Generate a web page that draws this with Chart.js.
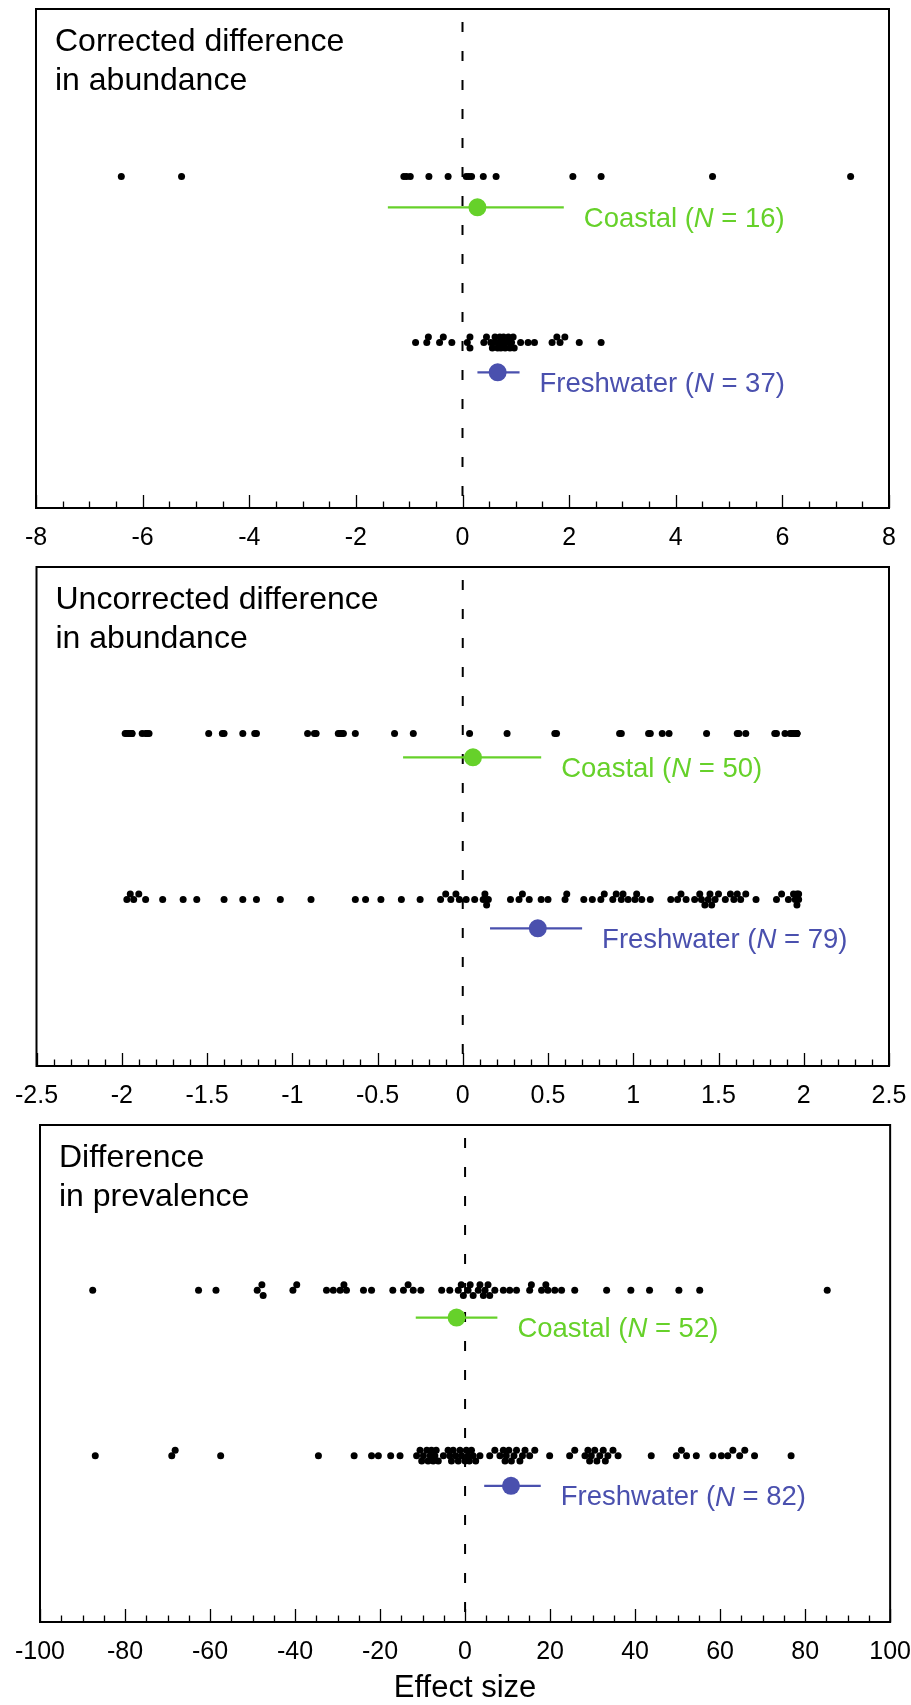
<!DOCTYPE html>
<html>
<head>
<meta charset="utf-8">
<script src="https://cdn.jsdelivr.net/npm/chart.js@4.4.1/dist/chart.umd.min.js"></script>
<style>
  body { margin: 0; background: #fff; }
  #wrap { position: relative; width: 911px; height: 1705px; background: #fff; }
  canvas { position: absolute; left: 0; }
</style>
</head>
<body>
<div id="wrap">
  <canvas id="c1" width="911" height="558" style="top:0px"></canvas>
  <canvas id="c2" width="911" height="558" style="top:558px"></canvas>
  <canvas id="c3" width="911" height="589" style="top:1116px"></canvas>
</div>
<script>
// ---- data ----
const groupNames = ['Coastal', 'Freshwater'];
const xAxisTitle = 'Effect size';

// corrected difference in abundance
const titleCorrected = ['Corrected difference', 'in abundance'];
const ticksCorrected = [-8, -6, -4, -2, 0, 2, 4, 6, 8];
const coastalCorrected = [-6.40, -5.27, -1.10, -1.05, -0.98, -0.63, -0.27, 0.07, 0.12, 0.17,
    0.39, 0.63, 2.07, 2.60, 4.69, 7.28];
const freshCorrected = [-0.88, -0.67, -0.64, -0.43, -0.36, -0.20, 0.09, 0.14, 0.14, 0.40,
    0.45, 0.53, 0.56, 0.61, 0.61, 0.66, 0.70, 0.70, 0.72, 0.74, 0.77, 0.80, 0.83, 0.86,
    0.89, 0.92, 0.95, 0.97, 1.09, 1.23, 1.35, 1.68, 1.77, 1.83, 1.92, 2.19, 2.60];
const meansCorrected = [0.28, 0.66];
const ciCorrected = [[-1.40, 1.90], [0.28, 1.07]];

// uncorrected difference in abundance
const titleUncorrected = ['Uncorrected difference', 'in abundance'];
const ticksUncorrected = [-2.5, -2, -1.5, -1, -0.5, 0, 0.5, 1, 1.5, 2, 2.5];
const coastalUncorrected = [-1.98, -1.97, -1.96, -1.95, -1.94, -1.94, -1.88, -1.86, -1.85, -1.84,
    -1.49, -1.41, -1.40, -1.29, -1.22, -1.21, -0.91, -0.87, -0.86, -0.73, -0.72, -0.71, -0.70,
    -0.63, -0.40, -0.29, 0.04, 0.26, 0.54, 0.55, 0.92, 0.93, 1.09, 1.10, 1.17, 1.21, 1.43,
    1.61, 1.62, 1.66, 1.83, 1.84, 1.89, 1.92, 1.93, 1.94, 1.95, 1.96, 1.96, 1.96];
const freshUncorrected = [-1.97, -1.95, -1.93, -1.90, -1.86, -1.76, -1.64, -1.56, -1.40, -1.29,
    -1.21, -1.07, -0.89, -0.63, -0.57, -0.48, -0.36, -0.25, -0.13, -0.10, -0.07, -0.04, -0.02,
    0.02, 0.07, 0.12, 0.13, 0.14, 0.15, 0.28, 0.33, 0.35, 0.39, 0.46, 0.50, 0.60, 0.61, 0.71,
    0.76, 0.81, 0.83, 0.88, 0.90, 0.93, 0.94, 0.97, 1.01, 1.02, 1.05, 1.10, 1.22, 1.26, 1.28,
    1.31, 1.36, 1.39, 1.40, 1.42, 1.44, 1.45, 1.46, 1.48, 1.50, 1.54, 1.57, 1.59, 1.61, 1.63,
    1.66, 1.72, 1.84, 1.87, 1.91, 1.94, 1.95, 1.96, 1.96, 1.97, 1.97];
const meansUncorrected = [0.06, 0.44];
const ciUncorrected = [[-0.35, 0.46], [0.16, 0.70]];

// difference in prevalence
const titlePrevalence = ['Difference', 'in prevalence'];
const ticksPrevalence = [-100, -80, -60, -40, -20, 0, 20, 40, 60, 80, 100];
const coastalPrevalence = [-87.6, -62.7, -58.6, -48.9, -47.8, -47.5, -40.5, -39.6, -32.6, -31.0,
    -29.4, -28.5, -27.9, -23.9, -22.0, -17.0, -14.5, -13.4, -12.2, -10.4, -5.5, -3.6, -1.6,
    -0.9, -0.4, 0.7, 1.2, 1.9, 3.1, 3.5, 4.3, 4.7, 5.4, 5.8, 7.0, 9.0, 10.5, 12.1, 15.2, 15.6,
    18.0, 19.0, 19.5, 21.1, 22.7, 25.8, 33.3, 39.0, 43.4, 50.3, 55.2, 85.2];
const freshPrevalence = [-87.0, -69.0, -68.2, -57.5, -34.5, -26.1, -22.0, -20.4, -17.5, -15.3,
    -11.4, -10.6, -10.2, -9.8, -9.0, -8.7, -8.2, -7.9, -7.5, -7.1, -6.8, -6.3, -5.1, -4.0,
    -3.6, -3.2, -2.8, -2.2, -1.6, -1.2, -0.8, 0.0, 0.3, 0.7, 1.0, 1.5, 1.9, 2.5, 3.5, 5.8,
    7.0, 8.2, 9.0, 9.4, 9.7, 10.3, 10.9, 11.5, 12.1, 12.9, 13.5, 14.1, 15.2, 16.4, 19.9, 24.6,
    25.8, 28.2, 28.9, 29.3, 29.7, 30.5, 31.0, 31.7, 32.5, 33.0, 33.6, 34.8, 36.0, 43.8, 49.7,
    50.9, 52.1, 54.4, 58.3, 60.3, 61.8, 63.0, 64.6, 65.8, 68.1, 76.7];
const meansPrevalence = [-2.0, 10.8];
const ciPrevalence = [[-11.6, 7.6], [4.5, 17.8]];

// ---- styling / layout ----
const FONT = "'Liberation Sans', Arial, Helvetica, sans-serif";
const colors = ['#66d12a', '#4a50ae'];
const BOX_H = 502;

Chart.defaults.font.family = FONT;
Chart.defaults.color = '#000';

const panels = [
    { id: 'c1', title: titleCorrected, ticks: ticksCorrected, minor: 0.5,
      groups: [coastalCorrected, freshCorrected], means: meansCorrected, ci: ciCorrected,
      pad: { top: 5.5, left: 36, right: 22 }, axisH: 50,
      rows: [168.5, 199.5, 335.5, 365.5], jitter: [false, true] },
    { id: 'c2', title: titleUncorrected, ticks: ticksUncorrected, minor: 0.1,
      groups: [coastalUncorrected, freshUncorrected], means: meansUncorrected, ci: ciUncorrected,
      pad: { top: 6.5, left: 36.5, right: 22 }, axisH: 50,
      rows: [167.5, 191.5, 334.5, 363.5], jitter: [false, true] },
    { id: 'c3', title: titlePrevalence, ticks: ticksPrevalence, minor: 5,
      groups: [coastalPrevalence, freshPrevalence], means: meansPrevalence, ci: ciPrevalence,
      pad: { top: 4.5, left: 40, right: 20 }, axisH: 83, xTitle: xAxisTitle,
      rows: [166.8, 194.5, 334, 364.5], jitter: [true, true] }
];

// spread crowded dots over three thin lanes, like the original's jitter
function placeDots(values, row, jitter, unitsPerPx) {
    const last = { '0': -Infinity, '-1': -Infinity, '1': -Infinity };
    const lanes = [0, -1, 1];
    return values.slice().sort((a, b) => a - b).map(v => {
        let lane = 0;
        if (jitter) {
            lane = lanes.find(l => (v - last[l]) / unitsPerPx >= 6);
            if (lane === undefined) {
                lane = lanes.reduce((best, l) => (last[l] < last[best] ? l : best), 0);
            }
        }
        last[lane] = v;
        return { x: v, y: row + lane * 5.5 };
    });
}

function drawGroupLabel(ctx, name, n, x0, yMid, color) {
    const size = '27.5px ';
    const parts = [[name + ' (', size + FONT], ['N', 'italic ' + size + FONT], [' = ' + n + ')', size + FONT]];
    ctx.fillStyle = color;
    ctx.textBaseline = 'middle';
    ctx.textAlign = 'left';
    let cx = x0;
    for (const [s, f] of parts) {
        ctx.font = f;
        ctx.fillText(s, cx, yMid);
        cx += ctx.measureText(s).width;
    }
}

function decor(p) {
    return {
        id: 'decor',
        afterDraw(chart) {
            const { ctx, chartArea: a } = chart;
            const x = chart.scales.x;
            const y = chart.scales.y;
            ctx.save();

            // frame
            ctx.strokeStyle = '#000';
            ctx.lineWidth = 2;
            ctx.strokeRect(a.left, a.top, a.right - a.left, a.bottom - a.top);

            // inward ticks
            const t0 = p.ticks[0];
            const step = p.ticks[1] - p.ticks[0];
            const n = Math.round((p.ticks[p.ticks.length - 1] - t0) / p.minor);
            ctx.lineWidth = 1.3;
            ctx.beginPath();
            for (let i = 0; i <= n; i++) {
                const v = t0 + i * p.minor;
                const k = (v - t0) / step;
                const major = Math.abs(k - Math.round(k)) < 1e-6;
                const px = Math.round(x.getPixelForValue(v)) + 0.5;
                ctx.moveTo(px, a.bottom);
                ctx.lineTo(px, a.bottom - (major ? 13 : 6.5));
            }
            ctx.stroke();

            // panel title
            ctx.fillStyle = '#000';
            ctx.font = '32px ' + FONT;
            ctx.textBaseline = 'alphabetic';
            ctx.textAlign = 'left';
            p.title.forEach((line, i) => ctx.fillText(line, a.left + 19, a.top + 42 + i * 39));

            // group labels next to the mean markers
            p.groups.forEach((vals, g) => {
                const x0 = x.getPixelForValue(p.ci[g][1]) + 20;
                const yMid = y.getPixelForValue(p.rows[g * 2 + 1]) + 12;
                drawGroupLabel(ctx, groupNames[g], vals.length, x0, yMid, colors[g]);
            });
            ctx.restore();
        }
    };
}

for (const p of panels) {
    const xmin = p.ticks[0];
    const xmax = p.ticks[p.ticks.length - 1];
    const unitsPerPx = (xmax - xmin) / (911 - p.pad.left - p.pad.right);

    const datasets = [];
    // mean markers on top
    p.means.forEach((m, g) => {
        datasets.push({
            type: 'scatter',
            data: [{ x: m, y: p.rows[g * 2 + 1] }],
            pointRadius: 9, pointBorderWidth: 0,
            backgroundColor: colors[g], borderColor: colors[g]
        });
    });
    // confidence bars
    p.ci.forEach((c, g) => {
        datasets.push({
            type: 'line',
            data: [{ x: c[0], y: p.rows[g * 2 + 1] }, { x: c[1], y: p.rows[g * 2 + 1] }],
            borderColor: colors[g], borderWidth: 2.2, pointRadius: 0, fill: false
        });
    });
    // individual effect sizes
    p.groups.forEach((vals, g) => {
        datasets.push({
            type: 'scatter',
            data: placeDots(vals, p.rows[g * 2], p.jitter[g], unitsPerPx),
            pointRadius: 3.5, pointBorderWidth: 0,
            backgroundColor: '#000', borderColor: '#000'
        });
    });
    // zero reference line
    datasets.push({
        type: 'line',
        data: [{ x: 0, y: 0 }, { x: 0, y: BOX_H }],
        borderColor: '#000', borderWidth: 2, borderDash: [10, 19], borderDashOffset: 16,
        pointRadius: 0, fill: false
    });

    new Chart(document.getElementById(p.id), {
        type: 'scatter',
        data: { datasets: datasets },
        options: {
            responsive: false,
            maintainAspectRatio: false,
            devicePixelRatio: 1,
            animation: false,
            events: [],
            layout: { padding: { top: p.pad.top, left: p.pad.left, right: p.pad.right, bottom: 0 } },
            plugins: { legend: { display: false }, tooltip: { enabled: false } },
            scales: {
                x: {
                    type: 'linear',
                    min: xmin,
                    max: xmax,
                    afterBuildTicks: s => { s.ticks = p.ticks.map(v => ({ value: v })); },
                    afterFit: s => { s.height = p.axisH; },
                    grid: { display: false, drawTicks: false },
                    border: { display: false },
                    ticks: {
                        // tall line box puts the label centre 30px under the axis
                        font: { size: 25, lineHeight: 2.4 }, color: '#000', padding: 0,
                        maxRotation: 0, autoSkip: false,
                        callback: v => String(v)
                    },
                    title: p.xTitle
                        ? { display: true, text: p.xTitle, color: '#000', font: { size: 31, lineHeight: 1.05 }, padding: { top: 0, bottom: 0 } }
                        : { display: false }
                },
                y: {
                    type: 'linear', min: 0, max: BOX_H, reverse: true, display: false
                }
            }
        },
        plugins: [decor(p)]
    });
}
</script>
</body>
</html>
